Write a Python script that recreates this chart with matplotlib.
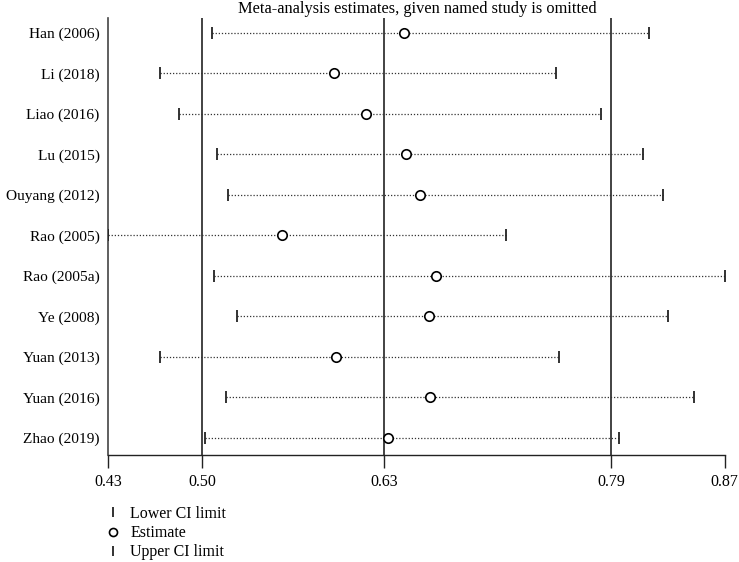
#!/usr/bin/env python3
# Sensitivity analysis plot: meta-analysis estimates with one study omitted
import numpy as np
import matplotlib
matplotlib.use("Agg")
import matplotlib.pyplot as plt

plt.rcParams['font.family'] = ['Liberation Serif', 'DejaVu Serif']

studies = ["Han (2006)", "Li (2018)", "Liao (2016)", "Lu (2015)",
           "Ouyang (2012)", "Rao (2005)", "Rao (2005a)", "Ye (2008)",
           "Yuan (2013)", "Yuan (2016)", "Zhao (2019)"]
lower = [0.506, 0.469, 0.483, 0.510, 0.518, 0.432, 0.508, 0.524,
         0.469, 0.516, 0.501]
estimate = [0.643, 0.593, 0.616, 0.645, 0.655, 0.556, 0.666, 0.661,
            0.595, 0.662, 0.632]
upper = [0.818, 0.752, 0.784, 0.814, 0.828, 0.716, 0.872, 0.832,
         0.754, 0.850, 0.797]

# Overall (all studies) lower CI, estimate, upper CI
overall = [0.499, 0.629, 0.791]
xticks = [0.432, 0.499, 0.629, 0.791, 0.872]
xticklabels = ["0.43", "0.50", "0.63", "0.79", "0.87"]

fs = 11.5

def plotStudies(ax, y):
    # dotted line from lower to upper limit
    for i in range(len(y)):
        ax.plot([lower[i], upper[i]], [y[i], y[i]], color='#333333',
                linestyle=(0, (1, 1.5)), linewidth=0.9, zorder=2)
    lo, = ax.plot(lower, y, linestyle='none', marker='|', markersize=8,
                  markeredgewidth=1.3, color='#222222', zorder=3)
    up, = ax.plot(upper, y, linestyle='none', marker='|', markersize=8,
                  markeredgewidth=1.3, color='#222222', zorder=3)
    es, = ax.plot(estimate, y, linestyle='none', marker='o', markersize=6.8,
                  markerfacecolor='white', markeredgecolor='black',
                  markeredgewidth=1.2, zorder=4)
    return lo, es, up

if __name__ == "__main__":
    fig = plt.figure(figsize=(7.39, 5.62), dpi=100)
    ax = fig.add_axes([0.1461, 0.1904, 0.8343, 0.7776])
    y = np.arange(len(studies))

    # vertical lines at overall limits
    for xv in overall:
        ax.axvline(xv, color='#222222', linewidth=1.2, zorder=1)

    lo, es, up = plotStudies(ax, y)

    ax.set_xlim(xticks[0], xticks[-1])
    ax.set_ylim(len(studies) - 1 + 0.42, -0.37)
    ax.set_yticks(y)
    ax.set_yticklabels(studies, fontsize=11.1)
    ax.tick_params(axis='y', length=0, pad=6)
    ax.set_xticks(xticks)
    ax.set_xticklabels(xticklabels, fontsize=fs)
    ax.tick_params(axis='x', length=9, width=1.0, pad=5, color='#222222')
    for s in ['top', 'right']:
        ax.spines[s].set_visible(False)
    ax.spines['left'].set_color('#444444')
    ax.spines['left'].set_linewidth(1.2)
    ax.spines['bottom'].set_color('#222222')
    ax.spines['bottom'].set_linewidth(1.0)

    fig.text(417 / 739, 1 - 13 / 562,
             "Meta-analysis estimates, given named study is omitted",
             ha='center', va='baseline', fontsize=11.8)

    ax.legend([lo, es, up], ["Lower CI limit", "Estimate", "Upper CI limit"],
              loc='upper left', bbox_to_anchor=(95 / 739, 1 - 498 / 562),
              bbox_transform=fig.transFigure, frameon=False, fontsize=fs,
              handlelength=1.2, handletextpad=0.5, labelspacing=0.2,
              borderpad=0, markerscale=0.85)

    fig.savefig("out.png", dpi=100)
